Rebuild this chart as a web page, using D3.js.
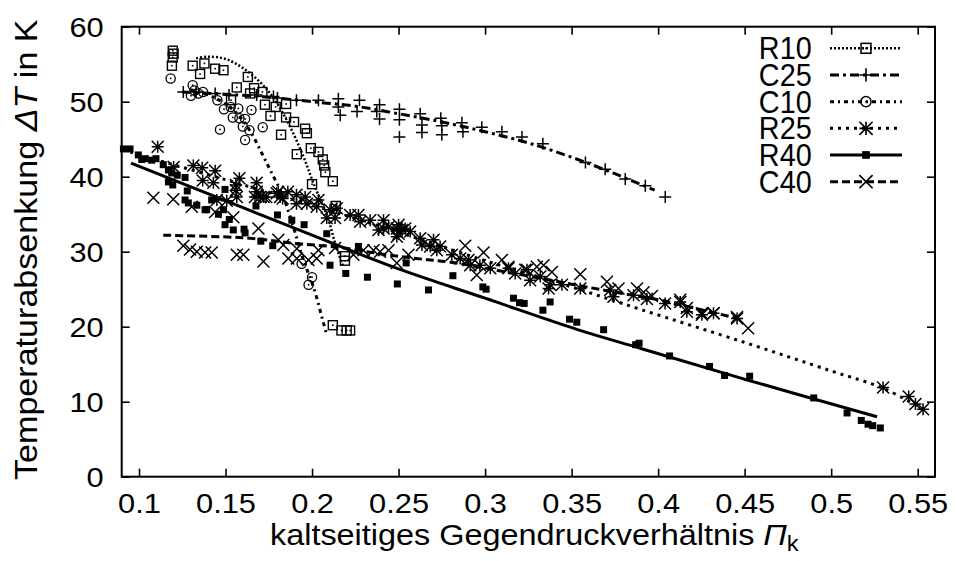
<!DOCTYPE html>
<html><head><meta charset="utf-8">
<script src="https://cdn.jsdelivr.net/npm/d3@7"></script>
<style>
body{margin:0;background:#fff}
svg{display:block}
text{font-family:"Liberation Sans",Arial,Helvetica,sans-serif;fill:#000}
</style>
</head><body>
<svg id="c" width="956" height="561"></svg>
<script>
// ---------------- data ----------------
const xTicks = [0.1,0.15,0.2,0.25,0.3,0.35,0.4,0.45,0.5,0.55];
const xTickLabels = ["0.1","0.15","0.2","0.25","0.3","0.35","0.4","0.45","0.5","0.55"];
const yTicks = [0,10,20,30,40,50,60];
const yTickLabels = ["0","10","20","30","40","50","60"];
const seriesNames = ["R10","C25","C10","R25","R40","C40"];

const r10Pts = [[0.1195,56.8],[0.12,56.4],[0.1195,55.9],[0.119,54.8],[0.131,54.8],[0.1378,55.1],[0.1353,53.7],[0.144,54.4],[0.1488,54.2],[0.1629,53.3],[0.1565,51.9],[0.1665,51.8],[0.1642,51.1],[0.1713,51.3],[0.1532,50.2],[0.1728,49.6],[0.179,49.3],[0.176,48.1],[0.185,49.7],[0.185,47.9],[0.1896,47.3],[0.1821,45.6],[0.196,46.4],[0.197,45.8],[0.1912,43.0],[0.1993,43.8],[0.2037,43.3],[0.2062,42.3],[0.207,41.5],[0.2077,40.6],[0.212,39.4],[0.2,39.0],[0.2137,36.1],[0.219,29.4],[0.219,28.8],[0.212,20.2],[0.217,19.5],[0.22,19.5],[0.222,19.5]];
const r10Fit = [[0.133,55.8],[0.14,56.0],[0.15,55.7],[0.16,54.5],[0.17,52.6],[0.178,50.4],[0.187,46.8],[0.195,42.7],[0.201,39.0],[0.209,34.6],[0.2135,31.0],[0.218,28.0]];

const c25Pts = [[0.1256,51.3],[0.133,51.3],[0.144,51.1],[0.152,50.9],[0.168,50.9],[0.1777,50.7],[0.18,50.5],[0.191,50.2],[0.2037,50.2],[0.2152,50.4],[0.2152,49.3],[0.2163,48.2],[0.2274,50.2],[0.226,48.7],[0.239,49.6],[0.2374,48.7],[0.239,47.7],[0.2505,49.0],[0.2505,47.6],[0.2505,45.3],[0.2625,48.4],[0.2635,46.9],[0.2635,45.9],[0.2744,47.8],[0.275,46.8],[0.275,45.6],[0.2866,47.2],[0.2872,46.0],[0.2981,46.6],[0.3097,46.0],[0.3213,45.3],[0.3334,44.4],[0.358,41.9],[0.3694,41.0],[0.381,39.7],[0.3926,38.8],[0.4041,37.3]];
const c25Fit = [[0.125,51.3],[0.15,51.0],[0.175,50.6],[0.2,50.0],[0.225,49.4],[0.25,48.4],[0.275,47.3],[0.3,46.0],[0.325,44.5],[0.35,42.6],[0.375,40.4],[0.398,38.2]];

const c10Pts = [[0.1183,53.1],[0.131,52.2],[0.13,50.8],[0.132,51.5],[0.1343,51.1],[0.137,51.3],[0.1453,50.2],[0.1491,49.0],[0.153,49.3],[0.1574,49.1],[0.1542,47.9],[0.158,47.8],[0.1613,47.7],[0.165,48.9],[0.16,46.7],[0.1638,46.2],[0.1715,46.6],[0.1468,46.3],[0.1613,44.9],[0.194,28.4],[0.2,26.6],[0.198,25.6]];
const c10Fit = [[0.13,51.6],[0.14,50.9],[0.15,49.7],[0.158,48.1],[0.165,45.8],[0.1706,43.3],[0.1758,40.9],[0.1834,37.3],[0.1892,33.3],[0.195,28.9],[0.2008,25.3],[0.2066,20.5],[0.2085,18.9]];

const r25Pts = [[0.1108,44.0],[0.12,41.3],[0.1314,41.5],[0.1365,41.2],[0.144,40.8],[0.1368,39.5],[0.143,39.2],[0.158,39.8],[0.156,38.9],[0.156,38.2],[0.1565,37.3],[0.168,39.2],[0.168,38.0],[0.167,37.3],[0.172,37.3],[0.1796,37.8],[0.1815,37.3],[0.183,37.1],[0.145,36.9],[0.1507,36.8],[0.1805,38.0],[0.186,38.0],[0.191,37.6],[0.196,37.3],[0.2037,36.9],[0.17,37.3],[0.1735,37.3],[0.191,36.4],[0.197,36.4],[0.2027,36.0],[0.2104,35.6],[0.2143,35.8],[0.2085,34.5],[0.2133,34.5],[0.222,34.9],[0.2268,34.9],[0.2278,34.0],[0.2336,34.2],[0.2413,34.2],[0.2384,32.9],[0.2442,33.3],[0.249,33.1],[0.249,32.0],[0.2413,33.1],[0.25,33.6],[0.252,32.9],[0.2538,33.1],[0.2567,32.7],[0.25,32.4],[0.2625,31.8],[0.2702,31.6],[0.2635,30.9],[0.2683,30.7],[0.274,30.7],[0.2721,30.2],[0.2808,29.6],[0.2856,29.1],[0.2904,28.9],[0.297,28.2],[0.2914,28.2],[0.303,27.8],[0.3135,27.8],[0.3174,27.1],[0.3242,27.6],[0.326,26.2],[0.3319,26.7],[0.3376,25.6],[0.3367,25.1],[0.3444,25.6],[0.355,25.1],[0.3723,24.9],[0.3742,24.0],[0.3858,24.2],[0.3935,23.7],[0.404,23.1],[0.4128,23.3],[0.4166,22.0],[0.4253,21.6],[0.432,21.8],[0.4456,21.1],[0.53,11.9],[0.5448,10.7],[0.5487,9.7],[0.5531,9.0]];
const r25Fit = [[0.095,43.3],[0.105,42.6],[0.15,39.6],[0.2,36.2],[0.25,32.6],[0.3,28.8],[0.35,25.3],[0.39,22.3],[0.45,17.9],[0.5,14.1],[0.53,11.8],[0.553,9.0]];

const r40Pts = [[0.091,43.7],[0.0948,43.7],[0.0996,42.9],[0.1016,42.3],[0.1035,42.4],[0.1073,42.2],[0.1098,42.4],[0.114,41.6],[0.117,40.9],[0.1189,40.5],[0.1221,40.2],[0.1266,39.9],[0.117,39.3],[0.1195,38.9],[0.1279,38.1],[0.1266,36.9],[0.1285,36.5],[0.1334,36.2],[0.1382,35.6],[0.142,36.9],[0.1459,35.0],[0.1488,35.6],[0.1497,38.3],[0.1522,34.3],[0.1497,33.6],[0.1545,32.9],[0.1607,33.0],[0.1613,32.5],[0.1676,36.1],[0.18,34.9],[0.1704,31.4],[0.1773,30.8],[0.1391,35.6],[0.1883,34.2],[0.1954,33.6],[0.2085,32.4],[0.2104,28.2],[0.2195,27.1],[0.2268,30.7],[0.232,26.6],[0.2493,25.7],[0.2544,28.5],[0.2673,24.9],[0.2814,26.8],[0.2987,25.3],[0.3006,25.0],[0.3164,23.8],[0.3199,23.2],[0.3226,23.1],[0.3376,23.3],[0.3334,22.2],[0.3488,21.0],[0.353,20.6],[0.3685,19.6],[0.387,17.6],[0.389,17.8],[0.4066,16.1],[0.4297,14.7],[0.4384,13.5],[0.4529,13.4],[0.4899,10.5],[0.5092,8.5],[0.5174,7.5],[0.5213,7.0],[0.524,6.8],[0.5284,6.5]];
const r40Fit = [[0.0954,41.8],[0.15,36.8],[0.2,32.2],[0.25,27.7],[0.3,23.8],[0.353,19.65],[0.39,17.1],[0.45,13.0],[0.5265,8.0]];

const c40Pts = [[0.1083,37.2],[0.1198,37.0],[0.1305,36.0],[0.144,35.3],[0.1545,34.6],[0.169,33.1],[0.1256,30.8],[0.1295,30.3],[0.1334,30.0],[0.1382,29.9],[0.142,29.9],[0.1565,29.6],[0.1603,29.6],[0.1719,28.7],[0.1805,31.6],[0.1834,30.9],[0.1863,29.1],[0.1912,30.4],[0.1912,29.1],[0.1979,28.9],[0.2027,29.1],[0.2037,30.2],[0.2133,30.5],[0.2239,29.6],[0.2297,30.2],[0.2355,30.2],[0.2393,30.0],[0.2442,30.2],[0.249,28.5],[0.2557,29.6],[0.2885,30.8],[0.2991,29.9],[0.2952,26.9],[0.3097,28.9],[0.3135,28.0],[0.3232,27.6],[0.3299,28.0],[0.3338,28.2],[0.3386,27.3],[0.355,27.0],[0.3704,26.0],[0.3771,25.1],[0.3878,25.1],[0.3916,24.6],[0.3964,24.1],[0.4128,23.6],[0.4166,22.5],[0.4253,21.8],[0.432,21.8],[0.4456,21.3],[0.452,19.8]];
const c40Fit = [[0.114,32.2],[0.164,31.8],[0.19,31.1],[0.215,30.6],[0.24,29.7],[0.26,29.1],[0.28,28.6],[0.305,27.6],[0.347,25.8],[0.375,24.6],[0.4,23.6],[0.415,22.8],[0.446,21.1]];

// ---------------- drawing ----------------
const svg = d3.select('#c');
const L = 121.7, R = 935, T = 26.7, B = 476.7;
const x = d3.scaleLinear().domain([0.09,0.56]).range([L,R]);
const y = d3.scaleLinear().domain([0,60]).range([B,T]);

const styles = {
  R10:{dash:"2,2", w:2.5, marker:"boxdot"},
  C25:{dash:"9,4,3,4", w:3, marker:"plus"},
  C10:{dash:"4,4,2,4", w:3, marker:"circdot"},
  R25:{dash:"3,5", w:3, marker:"star"},
  R40:{dash:null, w:3, marker:"fbox"},
  C40:{dash:"8,4", w:3, marker:"cross"}
};
const pts = {R10:r10Pts, C25:c25Pts, C10:c10Pts, R25:r25Pts, R40:r40Pts, C40:c40Pts};
const fits = {R10:r10Fit, C25:c25Fit, C10:c10Fit, R25:r25Fit, R40:r40Fit, C40:c40Fit};

function marker(g, type, cx, cy, s) {
  s = s || 1;
  const h = 6*s;
  if (type === "boxdot") {
    g.append("rect").attr("x",cx-4.5*s).attr("y",cy-4.5*s).attr("width",9*s).attr("height",9*s)
      .attr("fill","none").attr("stroke","#000").attr("stroke-width",1.4*s);
    g.append("rect").attr("x",cx-0.8).attr("y",cy-0.8).attr("width",1.6).attr("height",1.6).attr("fill","#000");
  } else if (type === "circdot") {
    g.append("circle").attr("cx",cx).attr("cy",cy).attr("r",4.6*s)
      .attr("fill","none").attr("stroke","#000").attr("stroke-width",1.3*s);
    g.append("rect").attr("x",cx-0.8).attr("y",cy-0.8).attr("width",1.6).attr("height",1.6).attr("fill","#000");
  } else if (type === "plus") {
    g.append("path").attr("d",`M${cx-h},${cy}H${cx+h}M${cx},${cy-h}V${cy+h}`)
      .attr("stroke","#000").attr("stroke-width",1.5*s).attr("fill","none");
  } else if (type === "cross") {
    g.append("path").attr("d",`M${cx-h},${cy-h}L${cx+h},${cy+h}M${cx-h},${cy+h}L${cx+h},${cy-h}`)
      .attr("stroke","#000").attr("stroke-width",1.5*s).attr("fill","none");
  } else if (type === "star") {
    g.append("path").attr("d",`M${cx-h},${cy}H${cx+h}M${cx},${cy-h}V${cy+h}M${cx-h},${cy-h}L${cx+h},${cy+h}M${cx-h},${cy+h}L${cx+h},${cy-h}`)
      .attr("stroke","#000").attr("stroke-width",1.5*s).attr("fill","none");
  } else if (type === "fbox") {
    g.append("rect").attr("x",cx-3.5*s).attr("y",cy-3.5*s).attr("width",7*s).attr("height",7*s).attr("fill","#000");
  }
}

const line = d3.line().x(d=>x(d[0])).y(d=>y(d[1])).curve(d3.curveCatmullRom.alpha(0.5));

const plot = svg.append("g");
seriesNames.forEach(name => {
  const st = styles[name];
  const g = plot.append("g").attr("class","series-"+name);
  pts[name].forEach(d => marker(g, st.marker, x(d[0]), y(d[1]), 1));
  g.append("path").datum(fits[name]).attr("d", line)
    .attr("fill","none").attr("stroke","#000").attr("stroke-width",st.w)
    .attr("stroke-dasharray", st.dash).attr("stroke-linecap","butt");
});

// axes
const fs = 28, sx = 1.1;
const xAxisB = d3.axisBottom(x).tickValues(xTicks).tickSize(-8).tickFormat((d,i)=>xTickLabels[i]);
const gxb = svg.append("g").attr("transform",`translate(0,${B})`).call(xAxisB);
gxb.selectAll("text").attr("x",0).attr("y",36.5).attr("dy",0)
  .attr("transform",`scale(${sx},1)`).style("font-size",fs+"px");
const gxt = svg.append("g").attr("transform",`translate(0,${T})`).call(d3.axisTop(x).tickValues(xTicks).tickSize(-8).tickFormat(""));
const yAxisL = d3.axisLeft(y).tickValues(yTicks).tickSize(-8).tickFormat((d,i)=>yTickLabels[i]);
const gyl = svg.append("g").attr("transform",`translate(${L},0)`).call(yAxisL);
gyl.selectAll("text").attr("x",-18/sx).attr("y",0).attr("dy","0.36em")
  .attr("transform",`scale(${sx},1)`).style("font-size",fs+"px");
const gyr = svg.append("g").attr("transform",`translate(${R},0)`).call(d3.axisRight(y).tickValues(yTicks).tickSize(-8).tickFormat(""));
[gxb,gxt,gyl,gyr].forEach(g=>{
  g.select(".domain").remove();
  g.selectAll(".tick line").attr("stroke","#000").attr("stroke-width",1.6);
  g.attr("font-family",null).attr("font-size",null);
});
svg.append("rect").attr("x",L).attr("y",T).attr("width",R-L).attr("height",B-T)
  .attr("fill","none").attr("stroke","#000").attr("stroke-width",2);

// axis titles
const yt = svg.append("text").attr("transform",`translate(37,${(T+B)/2-2}) rotate(-90) scale(1.1,1)`)
  .attr("text-anchor","middle").style("font-size","31px");
yt.append("tspan").text("Temperaturabsenkung ");
yt.append("tspan").style("font-style","italic").text("ΔT");
yt.append("tspan").text(" in K");

const xt = svg.append("text").attr("transform",`translate(${(L+R)/2+6},545) scale(1.08,1)`)
  .attr("text-anchor","middle").style("font-size","30px");
xt.append("tspan").text("kaltseitiges Gegendruckverhältnis ");
xt.append("tspan").style("font-style","italic").text("Π");
xt.append("tspan").attr("dy",6).style("font-size","22px").text("k");

// legend
const lg = svg.append("g");
seriesNames.forEach((name,i) => {
  const cy = 48.3 + i*26.67;
  const st = styles[name];
  lg.append("text").attr("transform",`translate(811.7,${cy+11}) scale(0.9,1)`)
    .attr("text-anchor","end").style("font-size","32px").text(name);
  lg.append("path").datum([[830,cy],[902,cy]])
    .attr("d", d3.line())
    .attr("stroke","#000").attr("stroke-width",st.w).attr("fill","none")
    .attr("stroke-dasharray", st.dash);
  marker(lg, st.marker, 866, cy, 1.1);
});
</script>
</body></html>
